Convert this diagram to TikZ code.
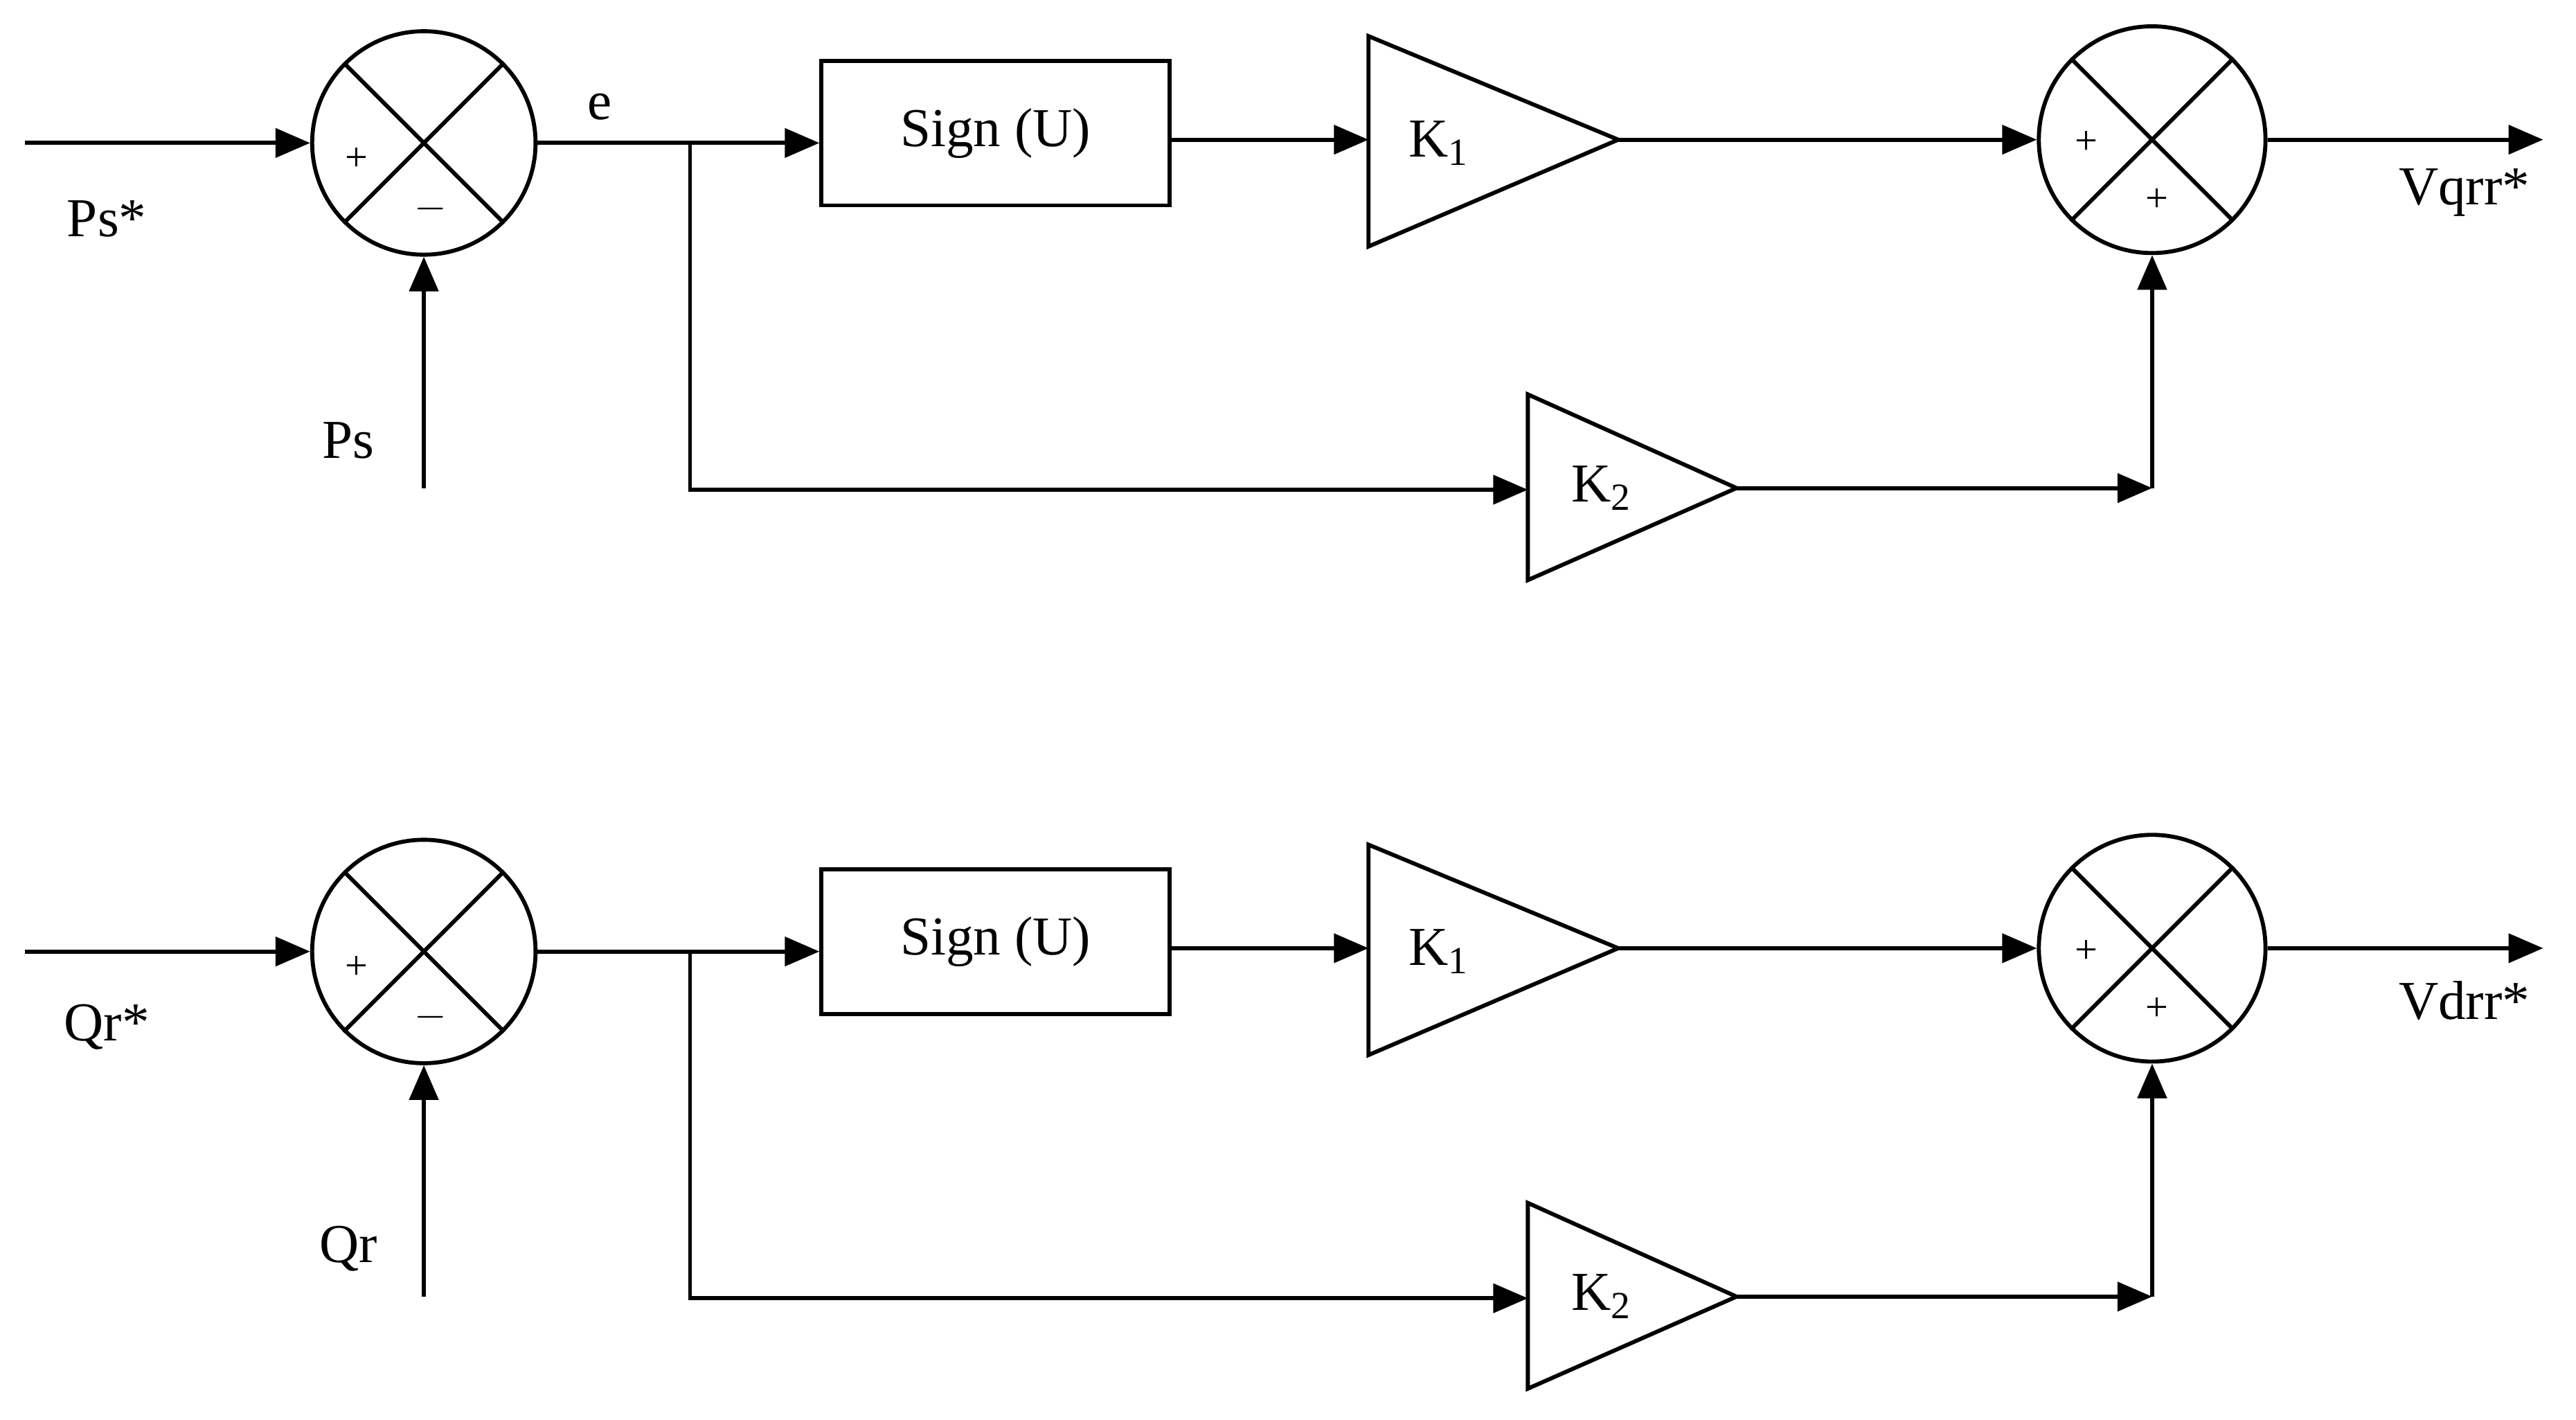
\documentclass[tikz,border=0pt]{standalone}
\usepackage{fontspec}
\setmainfont{Liberation Serif}
\usetikzlibrary{arrows.meta}
\begin{document}
\begin{tikzpicture}[x=0.02cm,y=-0.02cm,
  every node/.style={font=\fontsize{19}{22}\selectfont},
  ln/.style={line width=1.4pt},
  ar/.style={ln,-{Triangle[length=12pt,width=10pt]}},
  sm/.style={font=\fontsize{14}{16}\selectfont}]
\useasboundingbox (0,0) rectangle (1568,864);
\foreach \o/\r/\v/\inp/\fb/\lbl in {0/Ps/Vqr/Ps*/Ps/1,492/Qr/Vdr/Qr*/Qr/0}{
\begin{scope}[yshift={-\o*0.02cm}]
 \node[draw,circle,ln,minimum size=2.72cm,inner sep=0] (s1) at (258,87) {};
 \draw[ln] (s1.45)--(s1.225) (s1.135)--(s1.-45);
 \node[sm] at (217,97) {+};
 \node[sm] at (262,127) {$-$};
 \coordinate (in) at (15,87);
 \draw[ar] (in)--(s1.west);
 \node at (65,133) {\inp};
 \coordinate (fbin) at (258,297);
 \draw[ar] (fbin)--(s1.south);
 \node at (212,268) {\fb};
 \ifnum\lbl=1 \node at (365,65) {e};\fi
 \coordinate (br) at (420,87);
 \node[draw,ln,minimum width=4.24cm,minimum height=1.76cm] (sg) at (606,81) {Sign (U)};
 \draw[ar] (s1.east)--(br)--(sg.west|-br);
 \coordinate (t1a) at (833,22); \coordinate (t1b) at (833,150); \coordinate (t1) at (985,85);
 \draw[ln] (t1a)--(t1)--(t1b)--cycle;
 \node at (876,87) {K\textsubscript{1}};
 \draw[ar] (sg.east|-85,85)--(833,85);
 \node[draw,circle,ln,minimum size=2.76cm,inner sep=0] (s2) at (1310,85) {};
 \draw[ln] (s2.45)--(s2.225) (s2.135)--(s2.-45);
 \node[sm] at (1270,87) {+};
 \node[sm] at (1313,122) {+};
 \draw[ar] (t1)--(s2.west|-t1);
 \coordinate (out) at (1548,85);
 \draw[ar] (s2.east)--(out);
 \node at (1500,117) {\v r*};
 \coordinate (t2a) at (930,240); \coordinate (t2b) at (930,353); \coordinate (t2) at (1057,297);
 \draw[ln] (t2a)--(t2)--(t2b)--cycle;
 \node at (975,297) {K\textsubscript{2}};
 \draw[ar] (br)--(420,298)--(t2a|-0,298);
 \coordinate (cn) at (1310,297);
 \draw[ar] (t2)--(cn);
 \draw[ar] (cn)--(s2.south);
\end{scope}}
\end{tikzpicture}
\end{document}
